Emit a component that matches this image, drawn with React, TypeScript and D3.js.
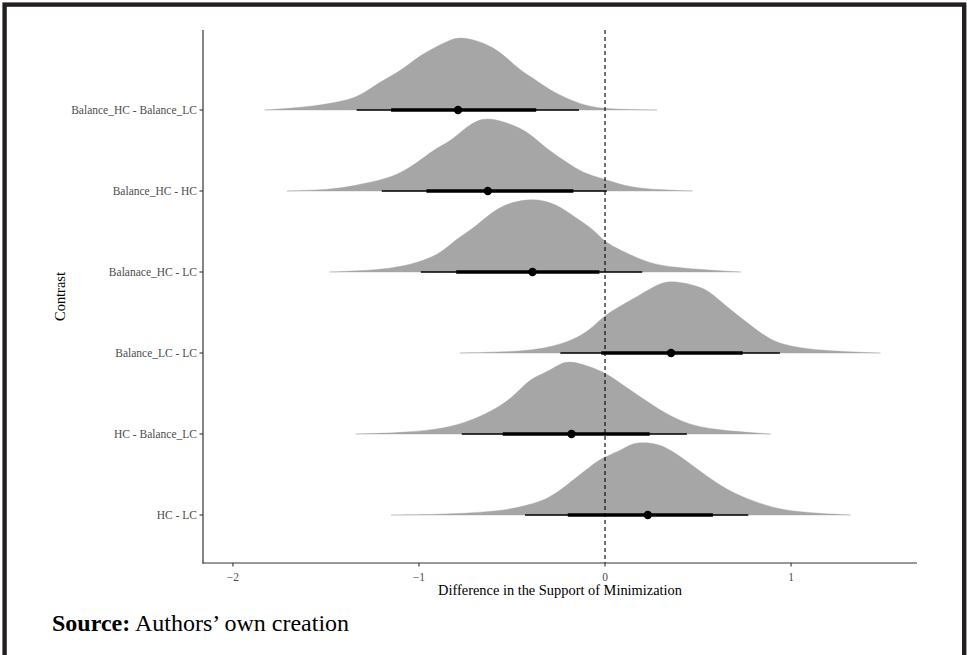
import React from "react";
import * as d3 from "d3";

const categories = [
  "Balance_HC - Balance_LC",
  "Balance_HC - HC",
  "Balanace_HC - LC",
  "Balance_LC - LC",
  "HC - Balance_LC",
  "HC - LC",
];

const pointEstimates = [-0.79, -0.63, -0.39, 0.355, -0.18, 0.23];
const innerLow = [-1.15, -0.96, -0.8, -0.02, -0.55, -0.2];
const innerHigh = [-0.37, -0.17, -0.03, 0.74, 0.24, 0.58];
const outerLow = [-1.335, -1.2, -0.99, -0.24, -0.77, -0.43];
const outerHigh = [-0.14, 0.01, 0.2, 0.94, 0.44, 0.77];

// density curves: [difference, relative density]
const densityBalHCBalLC: [number, number][] = [
  [-1.83, 0], [-1.6, 0.04], [-1.43, 0.11], [-1.33, 0.18], [-1.25, 0.32], [-1.16, 0.46],
  [-1.09, 0.56], [-1.01, 0.73], [-0.93, 0.85], [-0.83, 0.98], [-0.78, 1.01], [-0.69, 0.97],
  [-0.6, 0.87], [-0.53, 0.73], [-0.46, 0.56], [-0.39, 0.45], [-0.3, 0.28], [-0.19, 0.14],
  [-0.08, 0.04], [0.04, 0.01], [0.28, 0],
];
const densityBalHCHC: [number, number][] = [
  [-1.71, 0], [-1.46, 0.02], [-1.32, 0.09], [-1.19, 0.16], [-1.1, 0.25], [-1.01, 0.39],
  [-0.92, 0.58], [-0.83, 0.69], [-0.76, 0.86], [-0.69, 0.98], [-0.63, 1.01], [-0.55, 0.97],
  [-0.44, 0.86], [-0.37, 0.72], [-0.3, 0.56], [-0.2, 0.39], [-0.12, 0.25], [-0.01, 0.17],
  [0.06, 0.11], [0.17, 0.03], [0.47, 0],
];
const densityBalHCLC: [number, number][] = [
  [-1.48, 0], [-1.19, 0.03], [-1.03, 0.11], [-0.89, 0.24], [-0.8, 0.46], [-0.71, 0.6],
  [-0.62, 0.81], [-0.53, 0.95], [-0.42, 1.01], [-0.33, 1.0], [-0.24, 0.91], [-0.15, 0.74],
  [-0.06, 0.59], [0.0, 0.41], [0.08, 0.31], [0.19, 0.17], [0.33, 0.06], [0.73, 0],
];
const densityBalLCLC: [number, number][] = [
  [-0.78, 0], [-0.46, 0.02], [-0.31, 0.07], [-0.17, 0.18], [-0.08, 0.32], [-0.01, 0.51],
  [0.08, 0.65], [0.19, 0.81], [0.28, 0.95], [0.35, 1.01], [0.47, 0.95], [0.55, 0.88],
  [0.62, 0.72], [0.71, 0.53], [0.8, 0.35], [0.89, 0.18], [0.98, 0.1], [1.16, 0.03], [1.48, 0],
];
const densityHCBalLC: [number, number][] = [
  [-1.34, 0], [-1.06, 0.02], [-0.86, 0.08], [-0.74, 0.17], [-0.61, 0.31], [-0.49, 0.52],
  [-0.41, 0.76], [-0.31, 0.86], [-0.24, 0.98], [-0.19, 1.01], [-0.12, 0.97], [0.0, 0.86],
  [0.09, 0.69], [0.21, 0.48], [0.31, 0.31], [0.41, 0.17], [0.56, 0.06], [0.89, 0],
];
const densityHCLC: [number, number][] = [
  [-1.15, 0], [-0.82, 0.01], [-0.54, 0.06], [-0.43, 0.13], [-0.34, 0.19], [-0.25, 0.32],
  [-0.17, 0.49], [-0.08, 0.67], [-0.02, 0.79], [0.08, 0.89], [0.14, 0.99], [0.2, 1.01],
  [0.29, 0.99], [0.38, 0.86], [0.49, 0.65], [0.6, 0.44], [0.71, 0.28], [0.82, 0.17],
  [0.95, 0.07], [1.1, 0.03], [1.32, 0],
];
const densities = [
  densityBalHCBalLC,
  densityBalHCHC,
  densityBalHCLC,
  densityBalLCLC,
  densityHCBalLC,
  densityHCLC,
];

const xTicks = [-2, -1, 0, 1];
const xDomain = [-2.161, 1.677];
const referenceValue = 0;

const xTitle = "Difference in the Support of Minimization";
const yTitle = "Contrast";

const W = 967;
const H = 655;
const panel = { left: 203, right: 917, top: 30, bottom: 563 };
const slabHeight = 72;
const FONT = "'Liberation Serif', 'Times New Roman', serif";

export default function App() {
  const x = d3.scaleLinear().domain(xDomain).range([panel.left, panel.right]);
  const y = d3.scalePoint<string>().domain(categories).range([110, 515]).padding(0);

  return (
    <div style={{ position: "absolute", left: 0, top: 0 }}>
      <svg width={W} height={H} style={{ display: "block", background: "#fff" }}>
        <rect x={0} y={0} width={W} height={H} fill="#fff" />
        {/* slabs */}
        {categories.map((c, i) => {
          const base = y(c) as number;
          const area = d3
            .area<[number, number]>()
            .x((d) => x(d[0]))
            .y0(base)
            .y1((d) => base - d[1] * slabHeight)
            .curve(d3.curveBasis);
          return (
            <path
              key={"s" + i}
              d={area(densities[i]) || ""}
              fill="#a6a6a6"
              stroke="#a6a6a6"
              strokeWidth={0.6}
              strokeOpacity={0.7}
            />
          );
        })}
        {/* intervals */}
        {categories.map((c, i) => {
          const cy = y(c) as number;
          return (
            <g key={"iv" + i}>
              <line x1={x(outerLow[i])} x2={x(outerHigh[i])} y1={cy} y2={cy} stroke="#000" strokeWidth={1.5} />
              <line x1={x(innerLow[i])} x2={x(innerHigh[i])} y1={cy} y2={cy} stroke="#000" strokeWidth={3.6} />
              <circle cx={x(pointEstimates[i])} cy={cy} r={4.2} fill="#000" />
            </g>
          );
        })}
        {/* reference dashed line */}
        <line
          x1={x(referenceValue)}
          x2={x(referenceValue)}
          y1={panel.top}
          y2={panel.bottom}
          stroke="#000"
          strokeWidth={1.1}
          strokeDasharray="4,3"
        />
        {/* axes */}
        <line x1={panel.left} x2={panel.left} y1={panel.top} y2={panel.bottom + 0.5} stroke="#333" strokeWidth={1.2} />
        <line x1={panel.left - 0.5} x2={panel.right} y1={panel.bottom} y2={panel.bottom} stroke="#333" strokeWidth={1.2} />
        {categories.map((c, i) => {
          const cy = y(c) as number;
          return (
            <g key={"yt" + i}>
              <line x1={panel.left - 3.5} x2={panel.left} y1={cy} y2={cy} stroke="#333" strokeWidth={1.1} />
              <text
                x={panel.left - 6}
                y={cy}
                dy="0.34em"
                textAnchor="end"
                fontFamily={FONT}
                fontSize={11.5}
                fill="#4d4d4d"
              >
                {c}
              </text>
            </g>
          );
        })}
        {xTicks.map((t) => (
          <g key={"xt" + t}>
            <line x1={x(t)} x2={x(t)} y1={panel.bottom} y2={panel.bottom + 3.5} stroke="#333" strokeWidth={1.1} />
            <text
              x={x(t)}
              y={580.5}
              textAnchor="middle"
              fontFamily={FONT}
              fontSize={11.5}
              fill="#4d4d4d"
            >
              {t < 0 ? "\u2212" + Math.abs(t) : String(t)}
            </text>
          </g>
        ))}
        <text
          x={(panel.left + panel.right) / 2}
          y={595}
          textAnchor="middle"
          fontFamily={FONT}
          fontSize={14.4}
          fill="#000"
        >
          {xTitle}
        </text>
        <text
          transform={`translate(65, ${(panel.top + panel.bottom) / 2}) rotate(-90)`}
          textAnchor="middle"
          fontFamily={FONT}
          fontSize={14.4}
          fill="#000"
        >
          {yTitle}
        </text>
        {/* source note */}
        <text x={52} y={631} fontFamily={FONT} fontSize={24} fill="#000">
          <tspan fontWeight="bold">Source:</tspan>
          <tspan> Authors’ own creation</tspan>
        </text>
        {/* frame */}
        <rect x={4.6} y={4.6} width={959.6} height={H + 20} fill="none" stroke="#231f20" strokeWidth={4.4} />
      </svg>
    </div>
  );
}
